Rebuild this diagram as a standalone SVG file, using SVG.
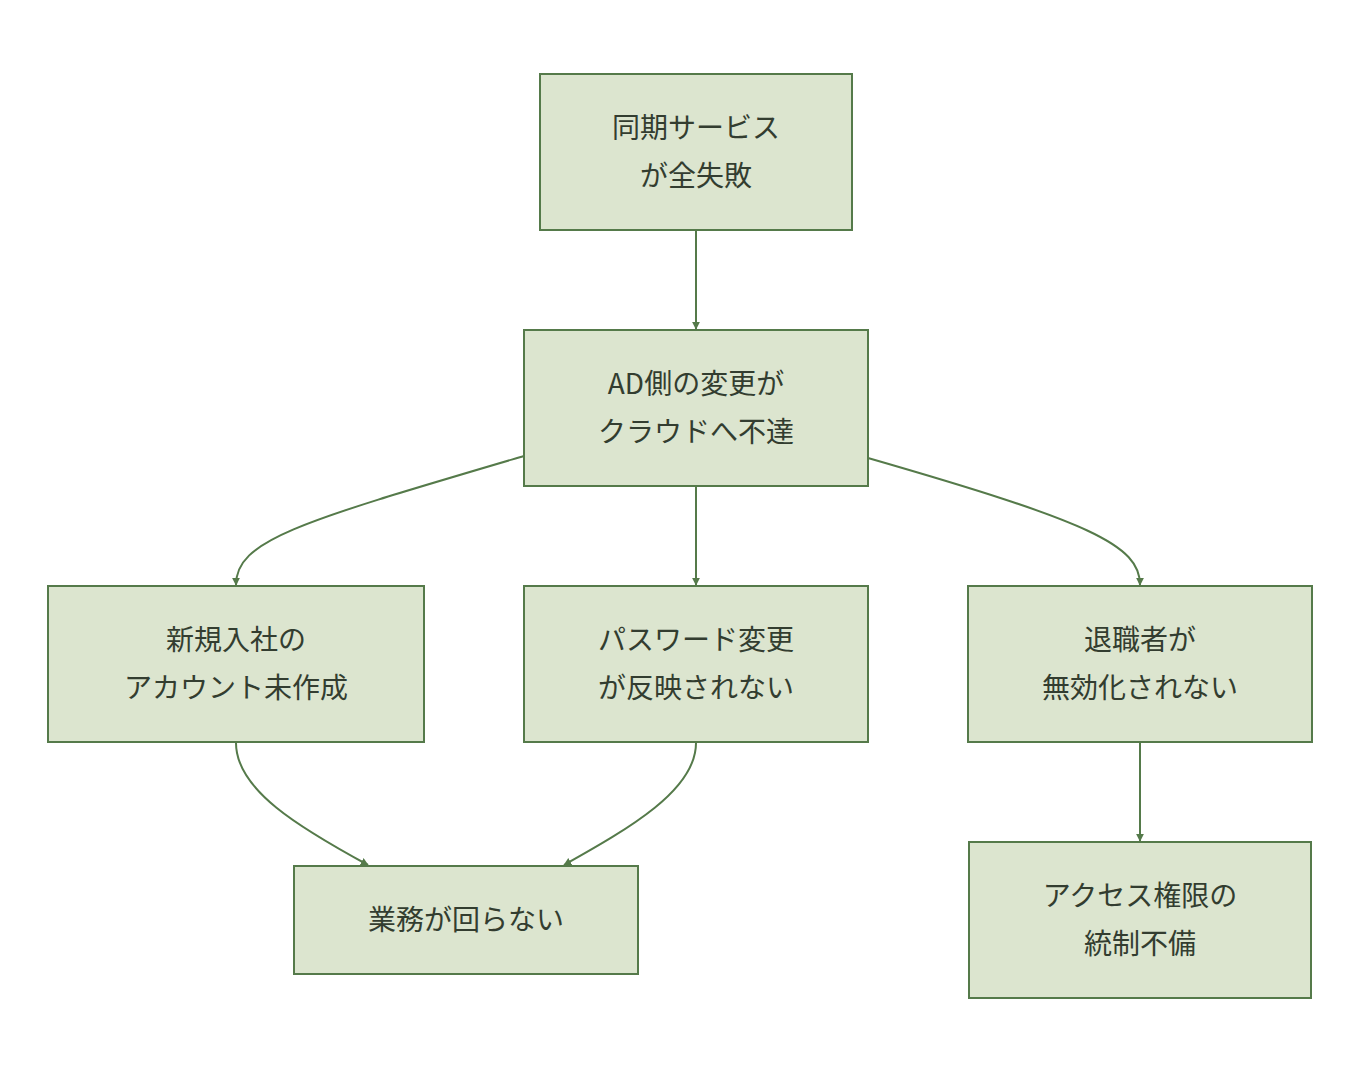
<svg xmlns="http://www.w3.org/2000/svg" width="1360" height="1076" viewBox="0 0 1360 1076">
<style>
.n rect{fill:#dce5cf;stroke:#557a4a;stroke-width:2}
.n text{font-family:"Noto Sans CJK JP","Noto Sans CJK SC",sans-serif;font-size:28px;fill:#333d30;text-anchor:middle}
.e path{fill:none;stroke:#557a4a;stroke-width:2;marker-end:url(#a)}
</style>
<defs><marker id="a" viewBox="0 0 10 10" refX="9" refY="5" markerWidth="8" markerHeight="8" markerUnits="userSpaceOnUse" orient="auto"><path d="M0,0L10,5L0,10z" fill="#557a4a"/></marker></defs>
<rect width="1360" height="1076" fill="#fff"/>
<g class="e">
<path d="M696,231V329"/>
<path d="M524,456C300,522 236,540 236,585"/>
<path d="M868,458C1090,522 1140,545 1140,585"/>
<path d="M696,487V585"/>
<path d="M236,743C236,790 300,828 368,865"/>
<path d="M696,743C696,790 630,828 564,865"/>
<path d="M1140,743V841"/>
</g>
<g class="n" id="n1"><rect x="540" y="74" width="312" height="156"/><text x="696" y="138">同期サービス</text><text x="696" y="186">が全失敗</text></g>
<g class="n" id="n2"><rect x="524" y="330" width="344" height="156"/><text x="696" y="394">AD側の変更が</text><text x="696" y="442">クラウドへ不達</text></g>
<g class="n" id="n3"><rect x="48" y="586" width="376" height="156"/><text x="236" y="650">新規入社の</text><text x="236" y="698">アカウント未作成</text></g>
<g class="n" id="n4"><rect x="524" y="586" width="344" height="156"/><text x="696" y="650">パスワード変更</text><text x="696" y="698">が反映されない</text></g>
<g class="n" id="n5"><rect x="968" y="586" width="344" height="156"/><text x="1140" y="650">退職者が</text><text x="1140" y="698">無効化されない</text></g>
<g class="n" id="n6"><rect x="294" y="866" width="344" height="108"/><text x="466" y="930">業務が回らない</text></g>
<g class="n" id="n7"><rect x="969" y="842" width="342" height="156"/><text x="1140" y="906">アクセス権限の</text><text x="1140" y="954">統制不備</text></g>
</svg>
